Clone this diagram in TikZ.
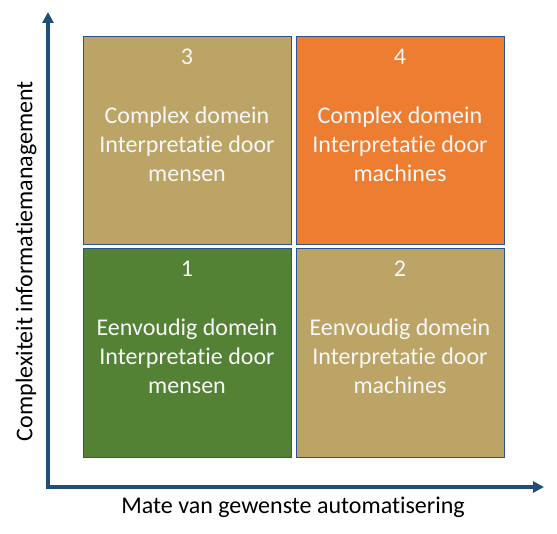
\documentclass[tikz,border=0pt]{standalone}
\usepackage{fontspec}
\setmainfont{Carlito}[Ligatures={NoCommon,NoContextual,NoRequired}]
\usetikzlibrary{arrows.meta}
\definecolor{tanc}{HTML}{BCA466}
\definecolor{greenc}{HTML}{548235}
\definecolor{orangec}{HTML}{ED7D31}
\definecolor{edgec}{HTML}{2F528F}
\definecolor{axisc}{HTML}{1F4E79}
\definecolor{txtc}{HTML}{F7F7F7}
\begin{document}
\begin{tikzpicture}[x=1pt,y=-1pt,
  quad/.style={draw=edgec, line width=1pt, minimum width=208pt, minimum height=208pt, inner sep=0pt},
  qtext/.style={text=txtc, font=\fontsize{24}{29}\selectfont, align=center, inner sep=0pt},
  axis/.style={draw=axisc, line width=3.5pt, -{Triangle[length=11pt,width=11pt]}},
  axlabel/.style={font=\fontsize{24}{29}\selectfont, inner sep=0pt}]
\useasboundingbox (0,0) rectangle (557,534);
\node[quad, fill=tanc] (b3) at (187,141) {};
\node[quad, fill=orangec] (b4) at (400,141) {};
\node[quad, fill=greenc] (b1) at (187,353) {};
\node[quad, fill=tanc] (b2) at (400,353) {};
\node[qtext] (n3) at (187,57) {3};
\node[qtext] (n4) at (400,57) {4};
\node[qtext] (n1) at (187,269) {1};
\node[qtext] (n2) at (400,269) {2};
\node[qtext] (t3) at (187,144) {Complex domein\\Interpretatie door\\mensen};
\node[qtext] (t4) at (400,144) {Complex domein\\Interpretatie door\\machines};
\node[qtext] (t1) at (187,356) {Eenvoudig domein\\Interpretatie door\\mensen};
\node[qtext] (t2) at (400,356) {Eenvoudig domein\\Interpretatie door\\machines};
\coordinate (origin) at (48,487);
\coordinate (ytop) at (48,12);
\coordinate (xend) at (544,487);
\draw[axis] ([yshift=1.75pt]origin) -- (ytop);
\draw[axis] ([xshift=-1.75pt]origin) -- (xend);
\node[axlabel] (xl) at (293,507) {Mate van gewenste automatisering};
\node[axlabel, rotate=90] (yl) at (26,261) {Complexiteit informatiemanagement};
\end{tikzpicture}
\end{document}
